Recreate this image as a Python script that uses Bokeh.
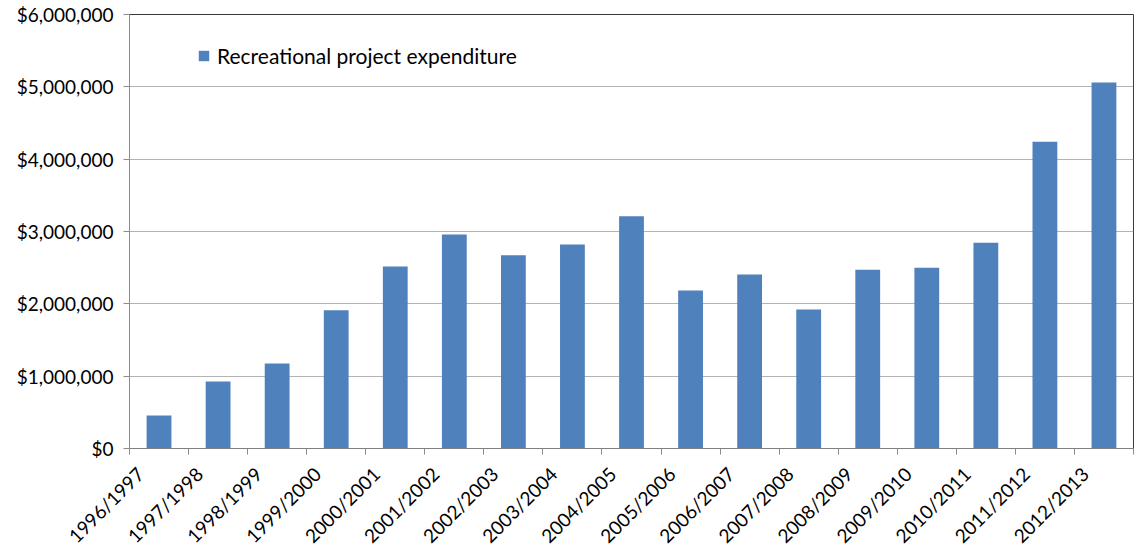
import math
from bokeh.plotting import figure
from bokeh.models import (ColumnDataSource, FixedTicker, NumeralTickFormatter,
                          Legend, LegendItem, Range1d)
from bokeh.embed import file_html
from bokeh.resources import INLINE

years = ["1996/1997", "1997/1998", "1998/1999", "1999/2000", "2000/2001",
         "2001/2002", "2002/2003", "2003/2004", "2004/2005", "2005/2006",
         "2006/2007", "2007/2008", "2008/2009", "2009/2010", "2010/2011",
         "2011/2012", "2012/2013"]
expenditure = [455000, 925000, 1175000, 1910000, 2515000,
               2960000, 2670000, 2820000, 3210000, 2185000,
               2405000, 1920000, 2470000, 2500000, 2845000,
               4240000, 5060000]
y_ticks = [0, 1000000, 2000000, 3000000, 4000000, 5000000, 6000000]
series_name = "Recreational project expenditure"

FONT = "Lato"
FS = "19px"

n = len(years)
centers = [i + 0.5 for i in range(n)]
label_pos = [i + 0.18 for i in range(n)]   # rotated labels sit left of the bar centre
bounds = list(range(n + 1))
src = ColumnDataSource(dict(x=centers, year=years, value=expenditure))

p = figure(width=1136, height=559, x_range=Range1d(0, n), y_range=Range1d(0, y_ticks[-1]),
           output_backend="svg", toolbar_location=None,
           min_border_left=129, min_border_right=3, min_border_top=14, min_border_bottom=111)

r = p.vbar(x="x", top="value", width=0.42, source=src,
           fill_color="#4f81bd", line_color=None)

p.outline_line_color = "#3a3a3a"
p.outline_line_width = 1

# x axis
p.xaxis.ticker = FixedTicker(ticks=label_pos, minor_ticks=bounds)
p.xaxis.major_label_overrides = {c: y for c, y in zip(label_pos, years)}
p.xaxis.major_tick_in = 0
p.xaxis.major_tick_out = 0
p.xaxis.minor_tick_in = 0
p.xaxis.minor_tick_out = 6
p.xaxis.minor_tick_line_color = "#8c8c8c"
p.xaxis.axis_line_color = "#808080"
p.xaxis.major_label_orientation = math.pi / 4
p.xaxis.major_label_standoff = 16
p.xaxis.major_label_text_font = FONT
p.xaxis.major_label_text_font_size = FS
p.xaxis.major_label_text_color = "black"

# y axis
p.yaxis.ticker = FixedTicker(ticks=y_ticks)
p.yaxis.formatter = NumeralTickFormatter(format="$0,0")
p.yaxis.major_tick_in = 0
p.yaxis.major_tick_out = 6
p.yaxis.major_tick_line_color = "#8c8c8c"
p.yaxis.minor_tick_line_color = None
p.yaxis.axis_line_color = "#8c8c8c"
p.yaxis.major_label_standoff = 10
p.yaxis.major_label_text_font = FONT
p.yaxis.major_label_text_font_size = FS
p.yaxis.major_label_text_color = "black"

p.xgrid.grid_line_color = None
p.ygrid.grid_line_color = "#b3b3b3"
p.ygrid.ticker = FixedTicker(ticks=y_ticks)

legend = Legend(items=[LegendItem(label=series_name, renderers=[r])],
                location=(68, 380), border_line_color=None,
                background_fill_alpha=0, padding=0, margin=0,
                glyph_width=13, glyph_height=13, label_standoff=7,
                label_text_font=FONT, label_text_font_size="21px",
                label_text_color="black")
p.add_layout(legend)

open("out.html", "w").write(file_html(p, INLINE))
